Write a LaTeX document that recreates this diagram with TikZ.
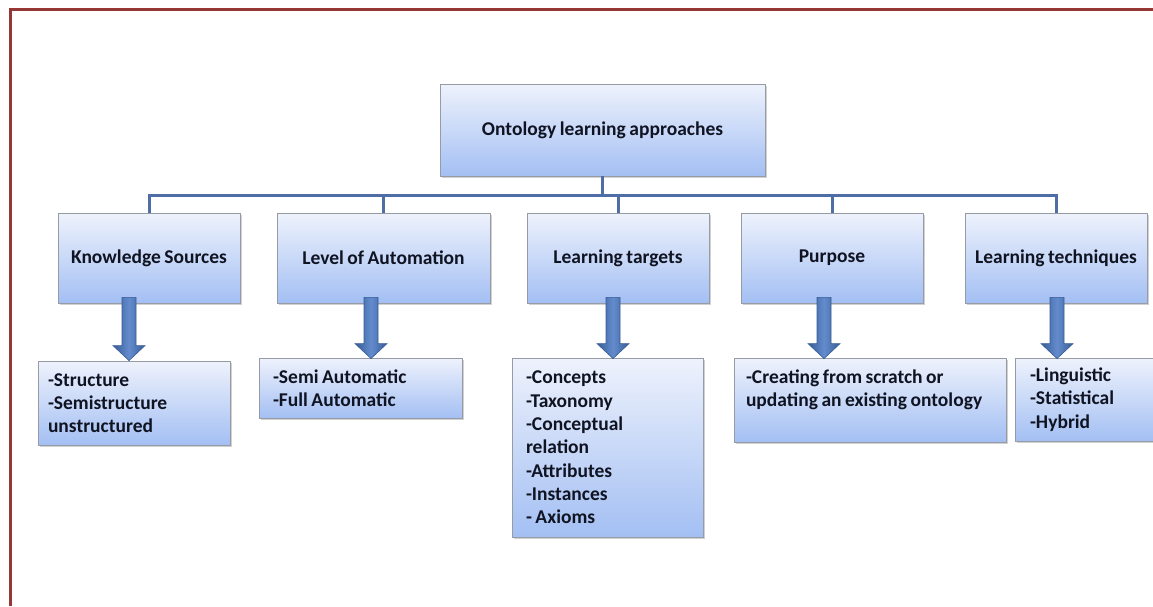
\documentclass[tikz,border=0pt]{standalone}
\usepackage{fontspec}
\setmainfont{Carlito}[WordSpace=0.8]
\usetikzlibrary{shadows,calc}
\definecolor{boxtop}{RGB}{238,242,252}
\definecolor{boxbot}{RGB}{163,191,243}
\definecolor{boxline}{RGB}{150,155,165}
\definecolor{connblue}{RGB}{79,110,165}
\definecolor{arrowdark}{RGB}{55,92,150}
\definecolor{arrowlight}{RGB}{100,140,205}
\definecolor{redframe}{RGB}{149,55,53}
\definecolor{ink}{RGB}{16,20,34}
\tikzset{
  box/.style={draw=boxline, line width=0.8pt, top color=boxtop, bottom color=boxbot,
    drop shadow={shadow xshift=2pt, shadow yshift=-2pt, opacity=0.3, fill=black!60},
    font=\bfseries\fontsize{19.5}{23.3}\selectfont, text=ink, inner sep=0pt},
  listbox/.style={box, align=flush left},
  conn/.style={draw=connblue, line width=3pt},
  blockarrow/.style={draw=arrowdark, line width=0.6pt, left color=arrowdark, right color=arrowdark, middle color=arrowlight},
  framestyle/.style={draw=redframe, line width=2.5pt}
}
\newcommand{\blockarr}[2]{%
  \path[blockarrow] ($(#1)+(-7,0)$) -- ($(#1)+(7,0)$) -- ($(#2)+(7,-15)$) -- ($(#2)+(16,-15)$)
    -- (#2) -- ($(#2)+(-16,-15)$) -- ($(#2)+(-7,-15)$) -- cycle;}
\begin{document}
\begin{tikzpicture}[x=1pt, y=-1pt]
\useasboundingbox (0,0) rectangle (1153,606);
% frame
\draw[framestyle] (10.5,606) -- (10.5,9.5) -- (1153,9.5);
% root
\node[box, minimum width=325, minimum height=92] (root) at (602.5,130) {Ontology learning approaches};
% level 2
\node[box, minimum width=182, minimum height=90] (ks) at (149,258) {Knowledge Sources};
\node[box, minimum width=213, minimum height=90] (auto) at (383.5,258) {Level of Automation};
\node[box, minimum width=182, minimum height=90] (lt) at (618,258) {Learning targets};
\node[box, minimum width=182, minimum height=90] (pur) at (832,258) {\raisebox{2pt}{Purpose}};
\node[box, minimum width=182, minimum height=90] (tech) at (1056,258) {Learning techniques};
% level 3
\node[listbox, inner xsep=10pt, text width=172pt, minimum height=84] (ksl) at (134,403)
  {-Structure\\-Semistructure\\unstructured};
\node[listbox, inner xsep=14pt, text width=175pt, minimum height=60] (autol) at (360.5,388)
  {-Semi Automatic\\-Full Automatic};
\node[listbox, inner xsep=14pt, text width=163pt, minimum height=179] (ltl) at (607.5,447.5)
  {-Concepts\\-Taxonomy\\-Conceptual\\relation\\-Attributes\\-Instances\\- Axioms};
\node[listbox, inner xsep=12pt, text width=248pt, minimum height=84] (pl) at (870,400)
  {-Creating from scratch or\\updating an existing ontology\\\mbox{}};
\node[listbox, inner xsep=15pt, text width=115pt, minimum height=83] (tl) at (1087.5,399.5)
  {-Linguistic\\-Statistical\\-Hybrid};
% tree connectors
\coordinate (bar) at (0,195);
\draw[conn] (root.south) -- (root.south |- bar);
\draw[conn] (ks.north) -- (ks.north |- bar) -| (tech.north);
\draw[conn] (auto.north) -- (auto.north |- bar);
\draw[conn] (lt.north) -- (lt.north |- bar);
\draw[conn] (pur.north) -- (pur.north |- bar);
% block arrows
\coordinate (a1s) at ([xshift=-20pt,yshift=6pt]ks.south);
\coordinate (a1e) at ([xshift=-5pt]ksl.north);
\coordinate (a2s) at ([xshift=-12.5pt,yshift=6pt]auto.south);
\coordinate (a2e) at ([xshift=10.5pt,yshift=-1pt]autol.north);
\coordinate (a3s) at ([xshift=-5pt,yshift=6pt]lt.south);
\coordinate (a3e) at ([xshift=5.5pt,yshift=-1pt]ltl.north);
\coordinate (a4s) at ([xshift=-8pt,yshift=6pt]pur.south);
\coordinate (a4e) at ([xshift=-46pt,yshift=-1pt]pl.north);
\coordinate (a5s) at ([xshift=1pt,yshift=6pt]tech.south);
\coordinate (a5e) at ([xshift=-30.5pt,yshift=-1pt]tl.north);
\blockarr{a1s}{a1e}
\blockarr{a2s}{a2e}
\blockarr{a3s}{a3e}
\blockarr{a4s}{a4e}
\blockarr{a5s}{a5e}
\end{tikzpicture}
\end{document}
